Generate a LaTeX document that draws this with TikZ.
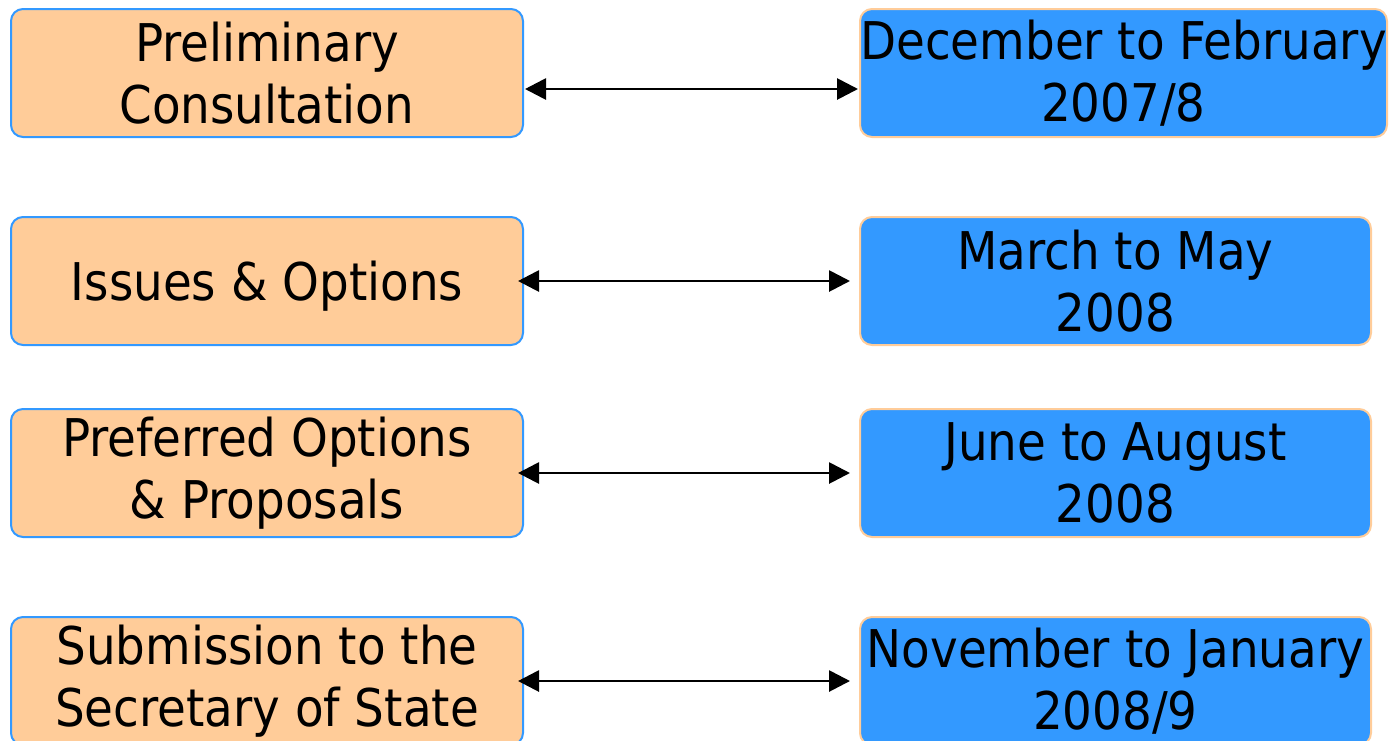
\documentclass[tikz,border=0pt]{standalone}
\usepackage{fontspec}
\setmainfont{DejaVu Sans Condensed}
\usetikzlibrary{arrows.meta}
\definecolor{peach}{HTML}{FFCC99}
\definecolor{skyb}{HTML}{3399FF}
\begin{document}
\begin{tikzpicture}[x=1pt,y=-1pt,
  phase/.style={draw=skyb,fill=peach,line width=2pt,rounded corners=12pt,
    minimum width=512pt,minimum height=128pt,inner sep=0pt,align=center,
    font=\fontsize{52}{62}\selectfont,anchor=north west},
  period/.style={draw=peach,fill=skyb,line width=2pt,rounded corners=12pt,
    minimum height=128pt,inner sep=0pt,align=center,
    font=\fontsize{52}{62}\selectfont,anchor=north west},
  link/.style={{Triangle[length=21pt,width=21pt]}-{Triangle[length=21pt,width=21pt]},line width=2.8pt}]
\useasboundingbox (0,0) rectangle (1391,740);
\node[phase] (a1) at (10,8) {Preliminary\\Consultation};
\node[phase] (a2) at (10,216) {\raisebox{-5pt}[\height][\depth]{Issues \& Options}};
\node[phase] (a3) at (10,408) {Preferred Options\\\& Proposals};
\node[phase] (a4) at (10,616) {Submission to the\\Secretary of State};
\node[period,minimum width=527pt] (b1) at (859,8) {December to February\\2007/8};
\node[period,minimum width=511pt] (b2) at (859,216) {March to May\\2008};
\node[period,minimum width=511pt] (b3) at (859,408) {June to August\\2008};
\node[period,minimum width=511pt] (b4) at (859,616) {November to January\\2008/9};
\draw[link,shorten <=1pt,shorten >=1pt] ([yshift=-16pt]a1.east) -- ([yshift=-16pt]b1.west);
\draw[link,shorten <=-6pt,shorten >=9pt] (a2) -- (b2);
\draw[link,shorten <=-6pt,shorten >=9pt] (a3) -- (b3);
\draw[link,shorten <=-6pt,shorten >=9pt] (a4) -- (b4);
\end{tikzpicture}
\end{document}
